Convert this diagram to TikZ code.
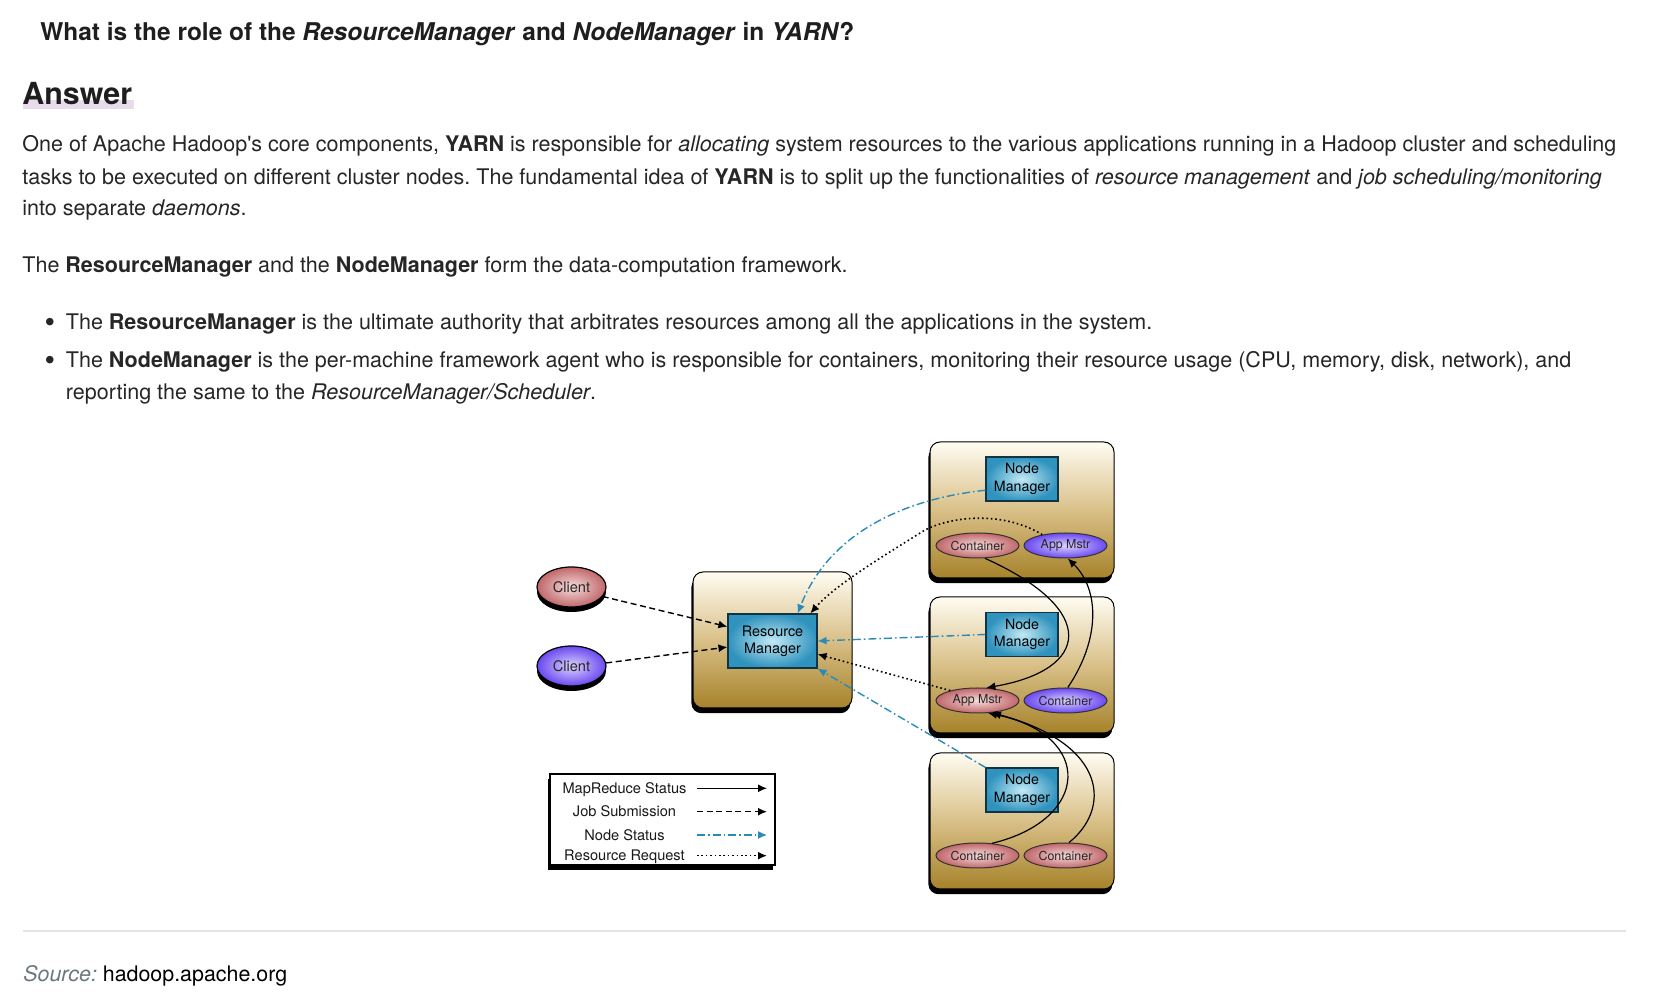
\documentclass[tikz,border=0pt]{standalone}
\usepackage{fontspec}
\newfontfamily\hv{TeX Gyre Heros}
\usetikzlibrary{shapes.geometric,arrows.meta,calc,shadows}
\frenchspacing
\definecolor{txt}{HTML}{262626}
\definecolor{ttl}{HTML}{1E1E1E}
\definecolor{gTop}{HTML}{FFFCF2}
\definecolor{gMid}{HTML}{D9C088}
\definecolor{gBot}{HTML}{A6822A}
\definecolor{tealIn}{HTML}{C2EAF6}
\definecolor{tealOut}{HTML}{3093BE}
\definecolor{pinkIn}{HTML}{F6DCDC}
\definecolor{pinkOut}{HTML}{C0676A}
\definecolor{purIn}{HTML}{DCD3FF}
\definecolor{purOut}{HTML}{6A48F0}
\definecolor{nsblue}{HTML}{2A8AB8}
\definecolor{lav}{HTML}{E8DCEC}
\definecolor{rulegray}{HTML}{E3E3E3}
\definecolor{srcgray}{HTML}{6E7681}
\tikzset{
  bodytext/.style={anchor=base west, inner sep=0, text=txt, font=\hv\fontsize{10.76}{12.5}\selectfont},
  bulletdot/.style={anchor=base, inner sep=0, text=txt, font=\hv\fontsize{10.76}{12.5}\selectfont},
  blackshadow/.style={drop shadow={shadow xshift=-0.8pt, shadow yshift=-2.6pt, opacity=1, fill=black}},
  gbox/.style={draw=black, line width=0.5pt, rounded corners=5pt, top color=gTop, bottom color=gBot, middle color=gMid, inner sep=0, minimum width=92pt, minimum height=68pt, blackshadow},
  tealbox/.style={draw=black!65!tealOut, line width=0.55pt, inner color=tealIn, outer color=tealOut, minimum width=36pt, minimum height=22pt, inner sep=0, align=center, text=black, font=\hv\fontsize{7.1}{8.8}\selectfont},
  ell/.style={ellipse, draw=black!80, line width=0.5pt, minimum width=41.5pt, minimum height=12.5pt, inner sep=0, text=black!85, font=\hv\fontsize{6.2}{7}\selectfont},
  pinkell/.style={ell, inner color=pinkIn, outer color=pinkOut},
  purell/.style={ell, inner color=purIn, outer color=purOut},
  client/.style={ellipse, draw=black, line width=0.6pt, minimum width=34.5pt, minimum height=20pt, inner sep=0, text=black!85, font=\hv\fontsize{7.3}{8}\selectfont, drop shadow={shadow xshift=0pt, shadow yshift=-2.5pt, opacity=1, fill=black}},
  legtext/.style={anchor=base, inner sep=0, text=black!90, font=\hv\fontsize{7.3}{8}\selectfont},
  js/.style={-{Latex[length=4.5pt,width=4pt]}, line width=0.7pt, dash pattern=on 3pt off 1.8pt},
  ns/.style={-{Latex[length=4.5pt,width=4pt]}, draw=nsblue, line width=0.7pt, dash pattern=on 4pt off 1.5pt on 0.8pt off 1.5pt},
  rr/.style={-{Latex[length=4.5pt,width=4pt]}, line width=0.8pt, dash pattern=on 0.8pt off 1.4pt},
  mr/.style={-{Latex[length=4.5pt,width=4pt]}, line width=0.6pt}
}
\begin{document}
\begin{tikzpicture}[x=0.5pt,y=-0.5pt]
\fill[white] (0,0) rectangle (1656,1004);
\useasboundingbox (0,0) rectangle (1656,1004);

% ---------- text ----------
\node[anchor=base west, inner sep=0, text=ttl, font=\hv\bfseries\fontsize{12.22}{14}\selectfont] (title) at (40,40.4)
  {What is the role of the \textit{ResourceManager} and \textit{NodeManager} in \textit{YARN}?};
\fill[lav] (23,100) rectangle (134,109);
\node[anchor=base west, inner sep=0, text=ttl, font=\hv\bfseries\fontsize{15.2}{17}\selectfont] (answer) at (22,104.5) {Answer};

\node[bodytext] (l1) at (22,151.3) {One of Apache Hadoop's core components, \textbf{YARN} is responsible for \textit{allocating} system resources to the various applications running in a Hadoop cluster and scheduling};
\node[bodytext] (l2) at (22,184.1) {tasks to be executed on different cluster nodes. The fundamental idea of \textbf{YARN} is to split up the functionalities of \textit{resource management} and \textit{job scheduling/monitoring}};
\node[bodytext] (l3) at (22,215.7) {into separate \textit{daemons}.};
\node[bodytext] (p2) at (22,272.7) {The \textbf{ResourceManager} and the \textbf{NodeManager} form the data-computation framework.};

\node[bulletdot] (dot1) at (50,333) {\scalebox{1.4}{•}};
\node[bodytext] (b1) at (65.5,329.8) {The \textbf{ResourceManager} is the ultimate authority that arbitrates resources among all the applications in the system.};
\node[bulletdot] (dot2) at (50,371) {\scalebox{1.4}{•}};
\node[bodytext] (b2a) at (65.5,367.8) {The \textbf{NodeManager} is the per-machine framework agent who is responsible for containers, monitoring their resource usage (CPU, memory, disk, network), and};
\node[bodytext] (b2b) at (65.5,399.5) {reporting the same to the \textit{ResourceManager/Scheduler}.};

\coordinate (ruleL) at (23,931);
\coordinate (ruleR) at (1626,931);
\draw[rulegray, line width=1pt] (ruleL) -- (ruleR);
\node[anchor=base west, inner sep=0, text=black, font=\hv\fontsize{10.7}{12.5}\selectfont] (src) at (23,981.3)
  {\textcolor{srcgray}{\textit{Source:}} hadoop.apache.org};

% ---------- diagram boxes ----------
\node[gbox] (NM1) at (1022,510) {};
\node[gbox] (NM2) at (1022,665) {};
\node[gbox] (NM3) at (1022,821) {};
\node[gbox, minimum width=79.5pt] (RM) at (772.5,640) {};

\node[tealbox, minimum width=44.5pt, minimum height=27pt, font=\hv\fontsize{7.2}{8.5}\selectfont] (RMi) at (772.5,641) {Resource\\Manager};
\node[tealbox] (NMb1) at (1022,479) {Node\\Manager};
\node[tealbox] (NMb2) at (1022,634.5) {Node\\Manager};
\node[tealbox] (NMb3) at (1022,790) {Node\\Manager};

\node[pinkell] (C1) at (977.5,545.5) {Container};
\node[purell] (AM1) at (1065.5,545.5) {App Mstr};
\node[pinkell] (AM2) at (977.5,700.5) {App Mstr};
\node[purell] (C2) at (1065.5,700.5) {Container};
\node[pinkell] (C31) at (977.5,855.5) {Container};
\node[pinkell] (C32) at (1065.5,855.5) {Container};

\node[client, inner color=pinkIn, outer color=pinkOut] (cl1) at (571.5,587) {Client};
\node[client, inner color=purIn, outer color=purOut] (cl2) at (571.5,666) {Client};

% ---------- legend ----------
\node[draw=black, line width=0.6pt, fill=white, minimum width=112.5pt, minimum height=45.5pt, inner sep=0, blackshadow] (leg) at (662.5,819.5) {};
\node[legtext] (lt1) at (624.5,793.5) {MapReduce Status};
\node[legtext] (lt2) at (624.5,817) {Job Submission};
\node[legtext] (lt3) at (624.5,840.2) {Node Status};
\node[legtext] (lt4) at (624.5,861) {Resource Request};
\coordinate (la1) at (697,788.3); \coordinate (lb1) at (767,788.3);
\coordinate (la2) at (697,811.7); \coordinate (lb2) at (767,811.7);
\coordinate (la3) at (697,835);   \coordinate (lb3) at (767,835);
\coordinate (la4) at (697,855.7); \coordinate (lb4) at (767,855.7);
\draw[mr] (la1) -- (lb1);
\draw[js] (la2) -- (lb2);
\draw[ns] (la3) -- (lb3);
\draw[rr] (la4) -- (lb4);

% ---------- connectors ----------
\draw[js] (cl1.-17) -- ($(RMi.north west)!0.24!(RMi.south west)$);
\draw[js] (cl2.5) -- ($(RMi.north west)!0.61!(RMi.south west)$);

\draw[ns] ($(NMb1.north west)!0.75!(NMb1.south west)$) .. controls (910,498) and (830,530) .. ($(RMi.north west)!0.78!(RMi.north east)$);
\coordinate (rrmid) at (925,530);
\draw[rr] (AM1.155) .. controls (1005,512) and (955,515) .. (rrmid) .. controls (885,555) and (835,585) .. ($(RMi.north west)!0.92!(RMi.north east)$);

\draw[ns] (NMb2.west) -- (RMi.east);
\draw[rr] (AM2.160) -- ($(RMi.north east)!0.74!(RMi.south east)$);
\draw[ns] (NMb3.north west) -- (RMi.south east);

\draw[mr] (C1.-60) .. controls (1100,610) and (1090,670) .. (AM2.55);
\draw[mr] (C2.80) .. controls (1100,640) and (1100,590) .. (AM1.-80);
\draw[mr] (C31.40) .. controls (1090,820) and (1095,735) .. (AM2.-50);
\draw[mr] (C32.75) .. controls (1110,810) and (1110,745) .. (AM2.-40);
\end{tikzpicture}
\end{document}
